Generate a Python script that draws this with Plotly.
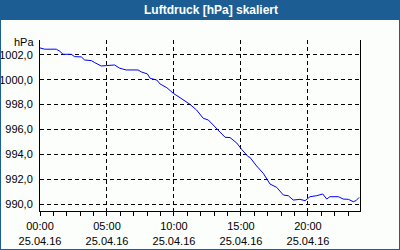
import plotly.graph_objects as go

times = ["00:00","00:21","01:13","01:29","01:43","02:20","02:35","03:05","03:20","03:50",
         "04:05","04:34","04:57","05:34","05:57","06:26","07:19","07:34","08:01","08:13",
         "08:43","08:58","09:28","09:57","10:27","11:11","11:41","12:11","12:34","13:11",
         "13:49","14:11","14:41","15:03","15:32","15:40","16:10","16:40","17:10","17:40",
         "18:10","18:32","18:54","19:24","19:47","20:09","20:39","21:06","21:24","21:38",
         "22:16","22:38","23:01","23:23","23:35","23:49"]
pressure = [1002.56,1002.46,1002.46,1002.29,1002.05,1002.05,1001.86,1001.84,1001.59,1001.54,
            1001.38,1001.11,1001.14,1001.19,1000.93,1000.79,1000.79,1000.63,1000.47,1000.12,
            999.98,999.66,999.36,998.91,998.56,998.03,997.57,996.90,996.76,996.09,
            995.37,995.35,994.91,994.40,993.81,993.76,993.06,992.47,991.61,991.34,
            990.72,990.67,990.32,990.38,990.27,990.59,990.67,990.81,990.40,990.59,
            990.59,990.40,990.38,990.19,990.27,990.54]
date = "2016-04-25"
x_ticks = ["00:00","05:00","10:00","15:00","20:00"]
x_tick_date = "25.04.16"
y_ticks = [990, 992, 994, 996, 998, 1000, 1002]
title = "Luftdruck [hPa] skaliert"
unit = "hPa"

FONT = "Liberation Sans"
BLUE = "#1c5e94"

fig = go.Figure()
fig.add_trace(go.Scatter(
    x=[f"{date} {t}" for t in times], y=pressure, mode="lines",
    line=dict(color="#0000ff", width=1), hoverinfo="skip"))

L, R, T, B = 40, 40, 40, 39
W, H = 400, 250
pw, ph = W - L - R, H - T - B
def px(xp): return (xp - L) / pw
def py(yp): return (H - B - yp) / ph

grid = dict(showgrid=True, gridcolor="black", gridwidth=1, griddash="4px,3px")

fig.update_layout(
    width=W, height=H, margin=dict(l=L, r=R, t=T, b=B, autoexpand=False),
    paper_bgcolor="#fcfefc", plot_bgcolor="#fcfefc",
    separators=",.",
    showlegend=False,
    font=dict(family=FONT, size=11, color="black"),
    xaxis=dict(type="date", range=[f"{date} 00:00", f"{date} 23:53"],
               tickvals=[f"{date} {t}" for t in x_ticks],
               ticktext=[f"{t}<br>{x_tick_date}" for t in x_ticks],
               ticks="outside", ticklen=4, tickcolor="black", tickwidth=1,
               ticklabelstandoff=1, automargin=False,
               minor=dict(dtick=3600000, ticks="outside", ticklen=4, tickcolor="black", showgrid=False),
               showline=True, linecolor="black", linewidth=1, zeroline=False,
               tickfont=dict(family=FONT, size=11), **grid),
    yaxis=dict(range=[989.44, 1003.2], tickvals=y_ticks, tickformat=".1f",
               ticks="", ticklabelstandoff=4, automargin=False,
               showline=True, mirror=True, linecolor="black", linewidth=1, zeroline=False,
               tickfont=dict(family=FONT, size=11), **grid),
    shapes=[
        dict(type="rect", xref="paper", yref="paper", x0=px(0), x1=px(400), y0=py(0), y1=py(20),
             fillcolor=BLUE, line=dict(width=0), layer="below"),
        dict(type="rect", xref="paper", yref="paper", x0=px(0), x1=px(400), y0=py(250), y1=py(0),
             fillcolor="rgba(0,0,0,0)", line=dict(color=BLUE, width=2)),
    ],
    annotations=[
        dict(text=f"<b>{title}</b>", xref="paper", yref="paper", x=px(211), y=py(10),
             xanchor="center", yanchor="middle", showarrow=False,
             font=dict(family=FONT, size=12, color="white")),
        dict(text=unit, xref="paper", yref="paper", x=px(36), y=py(42),
             xanchor="right", yanchor="middle", showarrow=False,
             font=dict(family=FONT, size=11, color="black")),
    ],
)
fig.write_html("out.html")
